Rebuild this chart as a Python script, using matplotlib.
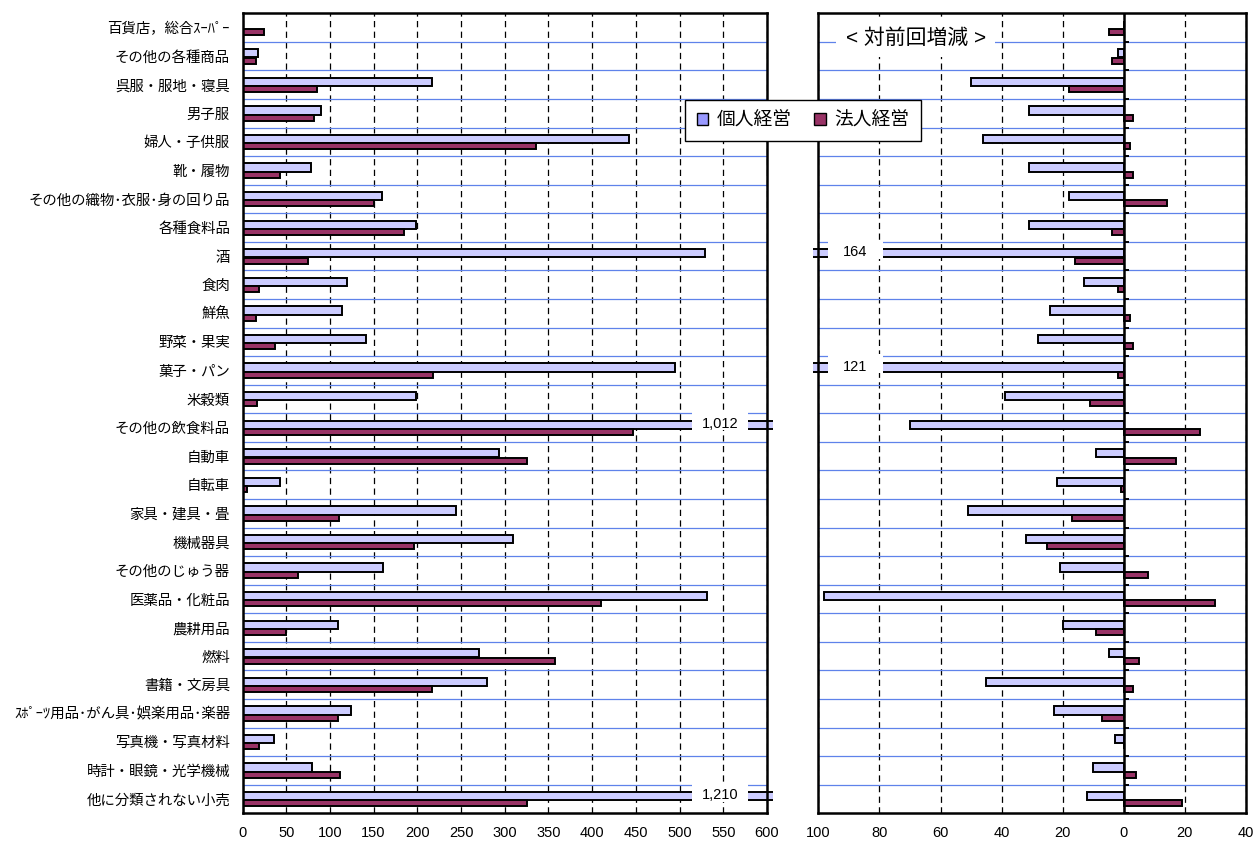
import matplotlib
matplotlib.use("Agg")
import matplotlib.pyplot as plt
import numpy as np
from matplotlib.patches import Rectangle, Patch
from matplotlib.transforms import blended_transform_factory

plt.rcParams['font.family'] = ['Liberation Sans', 'Noto Sans CJK JP']

# 業種（小分類）
categories = [
    "百貨店，総合ｽｰﾊﾟｰ", "その他の各種商品", "呉服・服地・寝具", "男子服",
    "婦人・子供服", "靴・履物", "その他の織物･衣服･身の回り品", "各種食料品",
    "酒", "食肉", "鮮魚", "野菜・果実", "菓子・パン", "米穀類",
    "その他の飲食料品", "自動車", "自転車", "家具・建具・畳", "機械器具",
    "その他のじゅう器", "医薬品・化粧品", "農耕用品", "燃料", "書籍・文房具",
    "ｽﾎﾟｰﾂ用品･がん具･娯楽用品･楽器", "写真機・写真材料", "時計・眼鏡・光学機械",
    "他に分類されない小売",
]
series_names = ["個人経営", "法人経営"]

# 事業所数
kojin = [0, 18, 217, 90, 442, 78, 160, 199, 529, 120, 114, 141, 495, 199,
         1012, 293, 43, 244, 310, 161, 531, 109, 270, 280, 124, 36, 79, 1210]
hojin = [25, 15, 85, 82, 336, 43, 150, 185, 75, 19, 15, 37, 218, 17,
         447, 325, 5, 110, 196, 63, 410, 50, 358, 217, 109, 19, 112, 326]

# 対前回増減
kojin_chg = [0, -2, -50, -31, -46, -31, -18, -31, -164, -13, -24, -28, -121, -39,
             -70, -9, -22, -51, -32, -21, -98, -20, -5, -45, -23, -3, -10, -12]
hojin_chg = [-5, -4, -18, 3, 2, 3, 14, -4, -16, -2, 2, 3, -2, -11,
             25, 17, -1, -17, -25, 8, 30, -9, 5, 3, -7, 0, 4, 19]

left_ticks = list(range(0, 601, 50))
right_ticks = list(range(-100, 41, 20))

C_KOJIN = "#ccccff"
C_HOJIN = "#993366"
C_ROWLINE = "#5f82ea"

n = len(categories)
y = np.arange(n)

fig = plt.figure(figsize=(12.55, 8.41), dpi=100)
W, H = 1255, 841
ax1 = fig.add_axes([242.5 / W, 1 - 813.3 / H, 524.5 / W, 800 / H])
ax2 = fig.add_axes([818.3 / W, 1 - 813.3 / H, 427.7 / W, 800 / H])


def style_axes(ax, ticks, labels, xlim):
    ax.set_xlim(*xlim)
    ax.set_ylim(n - 0.5, -0.5)
    ax.set_xticks(ticks)
    ax.set_xticklabels(labels)
    ax.set_axisbelow(True)
    ax.xaxis.grid(True, linestyle=(0, (5, 3.5)), color="black", linewidth=0.9)
    for b in np.arange(n - 1) + 0.5:
        ax.axhline(b, color=C_ROWLINE, linewidth=0.9, zorder=1)
    for s in ax.spines.values():
        s.set_linewidth(1.8)
        s.set_color("black")
        s.set_zorder(6)
    ax.tick_params(axis="x", length=0, pad=9.5, labelsize=10.5)
    ax.tick_params(axis="y", length=0)


def draw_bars(ax, v1, v2, clip_x0, clip_w):
    clip = Rectangle((clip_x0, 0), clip_w, 1, transform=ax.transAxes,
                     facecolor="none", edgecolor="none")
    bars1 = ax.barh(y - 0.10, v1, height=0.29, color=C_KOJIN,
                    edgecolor="black", linewidth=1.4, zorder=3)
    bars2 = ax.barh(y + 0.155, v2, height=0.21, color=C_HOJIN,
                    edgecolor="black", linewidth=1.4, zorder=3)
    for b in list(bars1) + list(bars2):
        b.set_clip_path(clip)


def add_break_label(ax, i, value, xc, half):
    trans = blended_transform_factory(ax.transAxes, ax.transData)
    top = i - 0.5
    ax.add_patch(Rectangle((xc - half, top - 0.06), 2 * half, 0.66,
                           transform=trans, facecolor="white",
                           edgecolor="none", zorder=4))
    ax.text(xc, top + 0.37, f"{abs(value):,}", transform=trans,
            ha="center", va="center", fontsize=10.5, zorder=5)


# 左：事業所数
style_axes(ax1, left_ticks, [str(t) for t in left_ticks], (0, 600))
ax1.set_yticks(y)
ax1.set_yticklabels(categories)
ax1.tick_params(axis="y", pad=9, labelsize=10.4)
draw_bars(ax1, kojin, hojin, 0.0, 1.0114)
for i, v in enumerate(kojin):
    if v > left_ticks[-1]:
        add_break_label(ax1, i, v, 0.91, 0.053)

# 右：対前回増減
style_axes(ax2, right_ticks, [str(abs(t)) for t in right_ticks], (-100, 40))
ax2.set_yticks([])
draw_bars(ax2, kojin_chg, hojin_chg, -0.0124, 1.0124)
ax2.axvline(0, color="black", linewidth=1.8, zorder=4)
for b in np.arange(n) + 0.5:
    ax2.plot([0, 1.6], [b, b], color="black", linewidth=1.4, zorder=4,
             solid_capstyle="butt")
for i, v in enumerate(kojin_chg):
    if v < right_ticks[0]:
        add_break_label(ax2, i, v, 0.087, 0.064)

ax2.text(0.228, 0.969, "< 対前回増減 >", transform=ax2.transAxes,
         ha="center", va="center", fontsize=15, zorder=5,
         bbox=dict(boxstyle="square,pad=0.45", facecolor="white",
                   edgecolor="none"))

handles = [Patch(facecolor="#9999ff", edgecolor="black", linewidth=1.0),
           Patch(facecolor=C_HOJIN, edgecolor="black", linewidth=1.0)]
leg = fig.legend(handles, series_names, loc="center",
                 bbox_to_anchor=(803 / W, 1 - 120.5 / H), ncol=2,
                 fontsize=13.5, frameon=True, fancybox=False,
                 edgecolor="black", framealpha=1, handlelength=0.6,
                 handleheight=0.6, handletextpad=0.45, columnspacing=1.2,
                 borderpad=0.65)
leg.get_frame().set_linewidth(1.0)

fig.savefig("out.png", dpi=100)
